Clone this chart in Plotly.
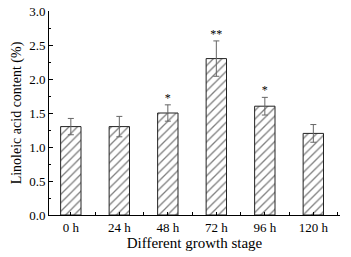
import plotly.graph_objects as go

categories = ["0 h", "24 h", "48 h", "72 h", "96 h", "120 h"]
values = [1.3, 1.3, 1.5, 2.3, 1.6, 1.2]
errors = [0.12, 0.15, 0.12, 0.26, 0.13, 0.13]
marks = ["", "", "*", "**", "*", ""]

xpos = list(range(len(categories)))
font_family = "Liberation Serif, Times New Roman, serif"

fig = go.Figure()
fig.add_trace(go.Bar(
    x=xpos, y=values, width=0.42,
    marker=dict(color="white", line=dict(color="#222222", width=1),
                pattern=dict(shape="/", fgcolor="#000000", bgcolor="white", size=6, solidity=0.22)),
    error_y=dict(type="data", array=errors, color="#666666", thickness=1, width=3),
    showlegend=False,
))
fig.add_trace(go.Scatter(
    x=xpos, y=[v + e for v, e in zip(values, errors)], mode="text",
    text=marks, textposition="top center",
    textfont=dict(family=font_family, size=12, color="black"),
    showlegend=False, cliponaxis=False,
))

fig.update_layout(
    width=351, height=257,
    margin=dict(l=49, r=11, t=11, b=42),
    plot_bgcolor="white", paper_bgcolor="white",
    font=dict(family=font_family, color="black"),
    xaxis=dict(
        range=[-0.45, 5.55], tickvals=xpos, ticktext=categories,
        showline=True, linecolor="black", linewidth=1, showgrid=False, zeroline=False,
        ticks="inside", ticklen=3, tickcolor="black",
        minor=dict(tick0=0.5, dtick=1, ticks="inside", ticklen=3, tickcolor="black"),
        tickfont=dict(size=13), automargin=False,
        title=dict(text="Different growth stage", font=dict(size=15), standoff=0),
    ),
    yaxis=dict(
        range=[0, 3.0], tickvals=[0, 0.5, 1.0, 1.5, 2.0, 2.5, 3.0],
        ticktext=["0.0", "0.5", "1.0", "1.5", "2.0", "2.5", "3.0"],
        showline=True, linecolor="black", linewidth=1, showgrid=False, zeroline=False,
        ticks="inside", ticklen=4, tickcolor="black",
        minor=dict(dtick=0.25, ticks="inside", ticklen=2, tickcolor="black"),
        tickfont=dict(size=13), automargin=False,
        title=dict(text="Linoleic acid content (%)", font=dict(size=14), standoff=4),
    ),
)

fig.write_html("out.html", config={"displayModeBar": False},
               post_script="document.body.style.margin='0px';")
